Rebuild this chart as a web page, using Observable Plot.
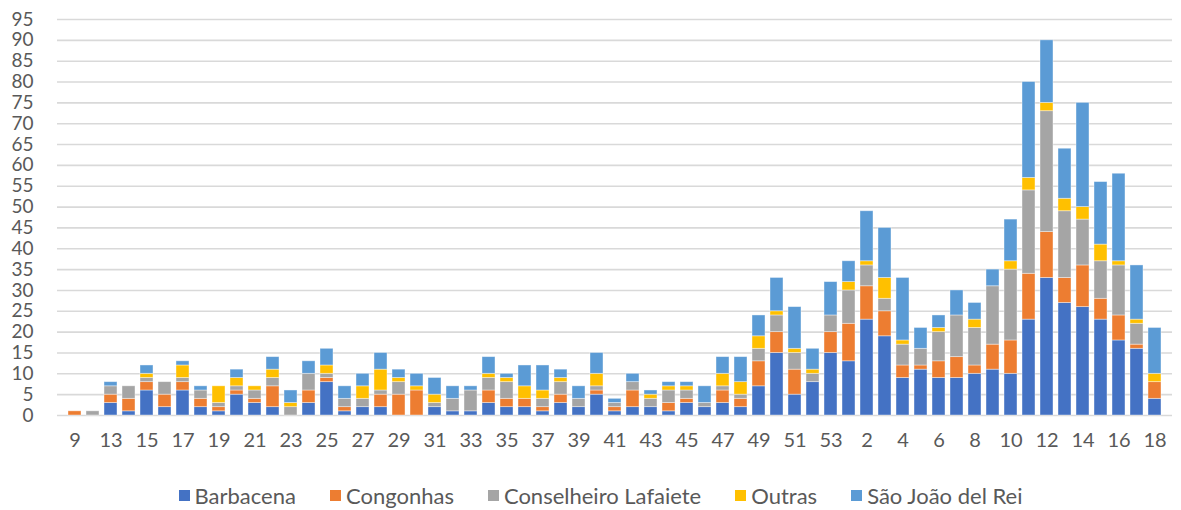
<!DOCTYPE html>
<html>
<head>
<meta charset="utf-8">
<script src="https://cdn.jsdelivr.net/npm/d3@7"></script>
<script src="https://cdn.jsdelivr.net/npm/@observablehq/plot@0.6"></script>
<style>
  html, body { margin: 0; padding: 0; background: #fff; }
  #chart { width: 1181px; }
  #legend { display: flex; justify-content: center; gap: 34px; font-family: Lato, "Open Sans", sans-serif; font-size: 22px; color: #595959; margin-top: 22px; padding-left: 20px; width: 1181px; box-sizing: border-box; }
  .item { display: flex; align-items: center; gap: 5px; }
  .sw { width: 11px; height: 11px; display: inline-block; }
</style>
</head>
<body>
<div id="chart"></div>
<div id="legend"></div>
<script>
const weeks = ["9","12","13","14","15","16","17","18","19","20","21","22","23","24","25","26","27","28","29","30","31","32","33","34","35","36","37","38","39","40","41","42","43","44","45","46","47","48","49","50","51","52","53","1","2","3","4","5","6","7","8","9","10","11","12","13","14","15","16","17","18"];
const seriesNames = ["Barbacena","Congonhas","Conselheiro Lafaiete","Outras","São João del Rei"];
const seriesColors = ["#4472C4","#ED7D31","#A5A5A5","#FFC000","#5B9BD5"];
const barbacena = [0,0,3,1,6,2,6,2,1,5,3,2,0,3,8,1,2,2,0,0,2,1,1,3,2,2,1,3,2,5,1,2,2,1,3,2,3,2,7,15,5,8,15,13,23,19,9,11,9,9,10,11,10,23,33,27,26,23,18,16,4];
const congonhas = [1,0,2,3,2,3,2,2,1,1,1,5,0,3,1,1,0,3,5,6,0,0,0,3,2,2,1,2,0,1,1,4,0,2,1,0,3,2,6,5,6,0,5,9,8,6,3,1,4,5,2,6,8,11,11,6,10,5,6,1,4];
const lafaiete = [0,1,2,3,1,3,1,2,1,1,2,2,2,4,1,2,2,1,3,0,1,3,5,3,4,0,2,3,2,1,1,2,2,3,2,1,1,1,3,4,4,2,4,8,5,3,5,4,7,10,9,14,17,20,29,16,11,9,12,5,0];
const outras = [0,0,0,0,1,0,3,0,4,2,1,2,1,0,2,0,3,5,1,1,2,0,0,1,1,3,2,1,0,3,0,0,1,1,1,0,3,3,3,1,1,1,0,2,1,5,1,0,1,0,2,0,2,3,2,3,3,4,1,1,2];
const saoJoao = [0,0,1,0,2,0,1,1,0,2,0,3,3,3,4,3,3,4,2,3,4,3,1,4,1,5,6,2,3,5,1,2,1,1,1,4,4,6,5,8,10,5,8,5,12,12,15,5,3,6,4,4,10,23,15,12,25,15,21,13,11];
const yTicks = [0,5,10,15,20,25,30,35,40,45,50,55,60,65,70,75,80,85,90,95];

const seriesValues = [barbacena, congonhas, lafaiete, outras, saoJoao];
const data = [];
seriesNames.forEach((name, s) => {
  seriesValues[s].forEach((v, i) => data.push({i, series: name, value: v}));
});
const idx = weeks.map((_, i) => i);

const chart = Plot.plot({
  width: 1181,
  height: 460,
  marginLeft: 57,
  marginRight: 9,
  marginTop: 19,
  marginBottom: 45,
  style: {fontFamily: "Lato, 'Open Sans', sans-serif", color: "#595959", background: "#fff"},
  x: {type: "band", domain: idx, paddingInner: 0.29, paddingOuter: 0.145},
  y: {domain: [0, 95]},
  color: {domain: seriesNames, range: seriesColors},
  marks: [
    Plot.gridY(yTicks, {stroke: "#d9d9d9", strokeOpacity: 1, strokeWidth: 1.6}),
    Plot.barY(data, {x: "i", y: "value", fill: "series", stroke: "#ffffff", strokeOpacity: 0.5, strokeWidth: 0.8, order: seriesNames}),
    Plot.axisY(yTicks, {tickSize: 0, tickPadding: 24, fontSize: 19, fill: "#595959", label: null}),
    Plot.axisX(idx.filter(i => i % 2 === 0), {tickSize: 0, tickPadding: 17, fontSize: 20, fill: "#595959", label: null, tickFormat: i => weeks[i]})
  ]
});
document.getElementById("chart").appendChild(chart);

const legend = document.getElementById("legend");
seriesNames.forEach((name, s) => {
  const item = document.createElement("span");
  item.className = "item";
  const sw = document.createElement("span");
  sw.className = "sw";
  sw.style.background = seriesColors[s];
  const t = document.createElement("span");
  t.textContent = name;
  item.appendChild(sw);
  item.appendChild(t);
  legend.appendChild(item);
});
</script>
</body>
</html>
